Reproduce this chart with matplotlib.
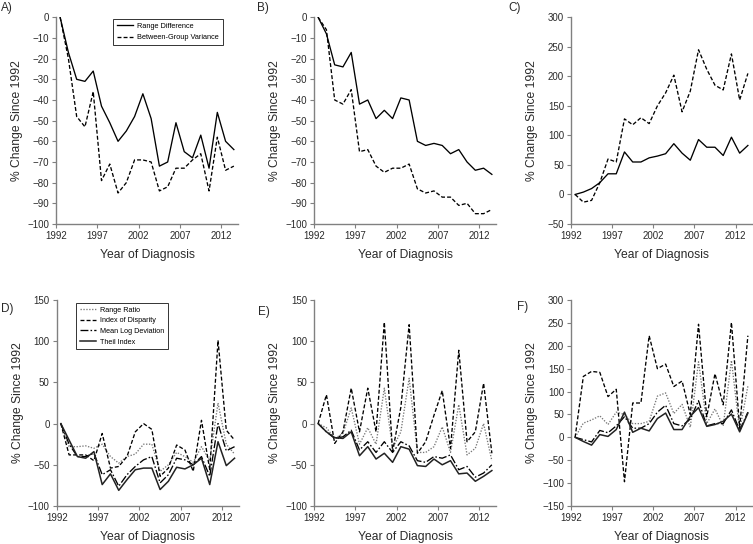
import matplotlib
matplotlib.use("Agg")
import matplotlib.pyplot as plt
import numpy as np

plt.rcParams['font.family'] = ['Liberation Sans', 'DejaVu Sans']

years = list(range(1992, 2014))
tick_years = [1992, 1997, 2002, 2007, 2012]

# Panel A
a_range_diff = [0, -17, -30, -31, -26, -43, -51, -60, -55, -48, -37, -49, -72, -70, -51, -65, -68, -57, -73, -46, -60, -64]
a_bgv = [0, -20, -48, -53, -36, -79, -71, -85, -80, -69, -69, -70, -84, -82, -73, -73, -69, -66, -84, -58, -74, -72]
# Panel B
b_range_diff = [0, -8, -23, -24, -17, -42, -40, -49, -45, -49, -39, -40, -60, -62, -61, -62, -66, -64, -70, -74, -73, -76]
b_bgv = [0, -6, -40, -42, -35, -65, -64, -72, -75, -73, -73, -71, -83, -85, -84, -87, -87, -91, -90, -95, -95, -93]
# Panel C
c_range_diff = [0, 4, 10, 20, 35, 35, 72, 55, 55, 62, 65, 69, 86, 70, 58, 93, 80, 80, 66, 97, 70, 83]
c_bgv = [0, -13, -10, 20, 60, 55, 128, 118, 130, 120, 150, 172, 202, 140, 175, 245, 212, 185, 177, 238, 160, 205]
# Panel D
d_rr = [0, -28, -28, -27, -30, -25, -40, -48, -40, -37, -25, -25, -58, -50, -35, -40, -47, -28, -45, 25, -25, -37]
d_iod = [0, -38, -38, -38, -45, -12, -54, -52, -40, -10, 0, -7, -64, -54, -26, -32, -58, 4, -56, 101, -8, -20]
d_mld = [0, -25, -40, -40, -36, -62, -56, -76, -62, -52, -44, -40, -72, -62, -42, -44, -50, -40, -64, 0, -33, -28]
d_theil = [0, -20, -40, -42, -34, -74, -61, -81, -68, -56, -54, -54, -80, -70, -53, -55, -50, -42, -74, -22, -51, -42]
# Panel E
e_rr = [0, -5, -18, -12, 19, -25, -5, -25, 43, -30, -10, 55, -35, -35, -28, -4, -35, 23, -38, -30, 0, -45]
e_iod = [0, 35, -24, -10, 43, -10, 43, -10, 123, -34, 20, 120, -36, -22, 10, 40, -30, 89, -22, -10, 49, -36]
e_mld = [0, -10, -18, -16, -8, -32, -22, -35, -22, -35, -22, -27, -45, -47, -40, -42, -38, -56, -52, -65, -60, -50]
e_theil = [0, -10, -17, -18, -10, -39, -28, -43, -36, -47, -28, -31, -51, -52, -43, -50, -45, -61, -60, -70, -64, -57]
# Panel F
f_rr = [0, 31, 38, 47, 28, 55, 50, 30, 30, 35, 90, 97, 52, 72, 22, 165, 30, 62, 25, 168, 15, 112]
f_iod = [0, 133, 144, 142, 89, 105, -97, 75, 75, 222, 150, 160, 111, 123, 50, 247, 45, 139, 71, 251, 22, 222]
f_mld = [0, -5, -10, 15, 10, 25, 45, 20, 20, 30, 55, 70, 30, 25, 40, 80, 25, 30, 30, 60, 15, 55]
f_theil = [0, -9, -17, 6, 2, 17, 55, 11, 20, 14, 41, 53, 17, 17, 46, 65, 24, 28, 35, 51, 12, 53]

W, H = 753, 544
fig = plt.figure(figsize=(W / 100, H / 100), dpi=100)

text_col = '#2a2a2a'
spine_col = '#808080'
lw = 0.95

def make_ax(left, top, bottom, width=182):
    ax = fig.add_axes([left / W, 1 - bottom / H, width / W, (bottom - top) / H])
    for s in ['top', 'right']:
        ax.spines[s].set_visible(False)
    for s in ['left', 'bottom']:
        ax.spines[s].set_color(spine_col)
        ax.spines[s].set_linewidth(1.0)
    ax.set_xlim(1991.5, 2013.5)
    ax.set_xticks([y - 0.5 for y in tick_years])
    ax.set_xticklabels([str(y) for y in tick_years])
    ax.tick_params(axis='both', direction='out', length=3, width=0.8,
                   color=spine_col, labelsize=7, labelcolor=text_col, pad=2)
    ax.set_xlabel('Year of Diagnosis', fontsize=8.7, color=text_col)
    ax.set_ylabel('% Change Since 1992', fontsize=8.7, color=text_col)
    ax.yaxis.set_label_coords(-0.182, 0.5)
    ax.xaxis.set_label_coords(0.5, -0.12)
    ax.patch.set_alpha(0)
    return ax

def fmt_ticks(ax, ticks):
    ax.set_yticks(ticks)
    ax.set_yticklabels([('\u2212' + str(-t)) if t < 0 else str(t) for t in ticks])
    ax.set_ylim(ticks[0], ticks[-1])

dash = (3, 1.6)
dot = (1, 1.2)
dashdot = (6, 1.6, 1.2, 1.6)

def pair(ax, solid, dashed, legend=False):
    ax.plot(years, solid, color='black', lw=lw, label='Range Difference')
    ax.plot(years, dashed, color='black', lw=lw, dashes=dash, label='Between-Group Variance')
    if legend:
        leg = ax.legend(loc='upper left', bbox_to_anchor=(113 / W, 1 - 19 / H),
                        bbox_transform=fig.transFigure, fontsize=5.3, frameon=True,
                        fancybox=False, edgecolor='black', handlelength=2.2,
                        borderaxespad=0, borderpad=0.5, labelspacing=0.6, handletextpad=0.6)
        leg.get_frame().set_linewidth(0.7)

def quad(ax, rr, iod, mld, theil, legend=False):
    ax.plot(years, rr, color='#777777', lw=lw, dashes=dot, label='Range Ratio')
    ax.plot(years, iod, color='black', lw=lw, dashes=dash, label='Index of Disparity')
    ax.plot(years, mld, color='black', lw=lw, dashes=dashdot, label='Mean Log Deviation')
    ax.plot(years, theil, color='#222222', lw=1.1, label='Theil Index')
    if legend:
        leg = ax.legend(loc='upper left', bbox_to_anchor=(76 / W, 1 - 303 / H),
                        bbox_transform=fig.transFigure, fontsize=5.2, frameon=True,
                        fancybox=False, edgecolor='black', handlelength=2.2,
                        borderaxespad=0, borderpad=0.5, labelspacing=0.5, handletextpad=0.6)
        leg.get_frame().set_linewidth(0.7)

axA = make_ax(56, 17.3, 224)
fmt_ticks(axA, list(range(-100, 1, 10)))
pair(axA, a_range_diff, a_bgv, legend=True)

axB = make_ax(314, 17.3, 224)
fmt_ticks(axB, list(range(-100, 1, 10)))
pair(axB, b_range_diff, b_bgv)

axC = make_ax(571, 17.3, 224, width=181)
fmt_ticks(axC, list(range(-50, 301, 50)))
pair(axC, c_range_diff, c_bgv)

axD = make_ax(56.7, 300, 506)
fmt_ticks(axD, list(range(-100, 151, 50)))
quad(axD, d_rr, d_iod, d_mld, d_theil, legend=True)

axE = make_ax(314, 300, 506)
fmt_ticks(axE, list(range(-100, 151, 50)))
quad(axE, e_rr, e_iod, e_mld, e_theil)

axF = make_ax(571, 300, 506, width=181)
fmt_ticks(axF, list(range(-150, 301, 50)))
quad(axF, f_rr, f_iod, f_mld, f_theil)

for lab, x, y in [('A)', 1, 8), ('B)', 257, 8), ('C)', 508, 8),
                  ('D)', 1, 309), ('E)', 258, 312), ('F)', 517, 307)]:
    fig.text(x / W, 1 - y / H, lab, fontsize=8.5, color=text_col, va='center', ha='left')

fig.savefig('out.png', dpi=100)
